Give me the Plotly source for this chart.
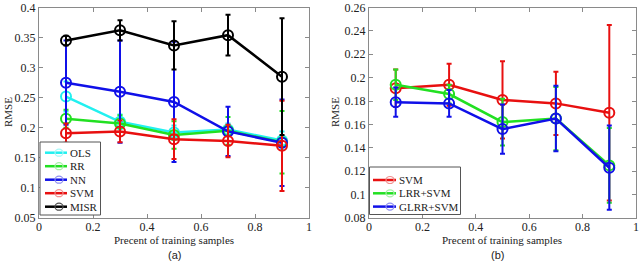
import plotly.graph_objects as go

x = [0.1, 0.3, 0.5, 0.7, 0.9]

# Panel (a)
ols = [0.252, 0.210, 0.192, 0.197, 0.179]
ols_err = [0.025, 0.012, 0.012, 0.010, 0.015]
rr = [0.215, 0.207, 0.188, 0.195, 0.176]
rr_err = [0.015, 0.014, 0.023, 0.023, 0.052]
nn = [0.275, 0.260, 0.243, 0.194, 0.175]
nn_err = [0.070, 0.085, 0.100, 0.041, 0.072]
svm = [0.191, 0.194, 0.181, 0.178, 0.170]
svm_err = [0.016, 0.018, 0.033, 0.027, 0.075]
misr = [0.345, 0.362, 0.337, 0.354, 0.285]
misr_err = [0.008, 0.017, 0.040, 0.034, 0.097]

# Panel (b)
lrr = [0.194, 0.186, 0.162, 0.165, 0.125]
lrr_err = [0.013, 0.008, 0.020, 0.027, 0.032]
glrr = [0.179, 0.178, 0.156, 0.165, 0.123]
glrr_err = [0.0125, 0.0115, 0.021, 0.028, 0.036]

names_a = ["OLS", "RR", "NN", "SVM", "MISR"]
names_b = ["SVM", "LRR+SVM", "GLRR+SVM"]

xticks = [0, 0.2, 0.4, 0.6, 0.8, 1]
xticktext = ["0", "0.2", "0.4", "0.6", "0.8", "1"]
yticks_a = [0.05, 0.1, 0.15, 0.2, 0.25, 0.3, 0.35, 0.4]
yticktext_a = ["0.05", "0.1", "0.15", "0.2", "0.25", "0.3", "0.35", "0.4"]
yticks_b = [0.08, 0.1, 0.12, 0.14, 0.16, 0.18, 0.2, 0.22, 0.24, 0.26]
yticktext_b = ["0.08", "0.1", "0.12", "0.14", "0.16", "0.18", "0.2", "0.22", "0.24", "0.26"]

CYAN = "#22f0f0"
GREEN = "#22e022"
BLUE = "#1010e8"
RED = "#e81010"
BLACK = "#000000"
PALE = {CYAN: "#a8f8f8", GREEN: "#a8f0a8", BLUE: "#9090f0", RED: "#f09090", BLACK: "#505050"}

colors_a = [CYAN, GREEN, BLUE, RED, BLACK]
colors_b = [RED, GREEN, BLUE]

fig = go.Figure()

def add(name, y, err, color, xa, ya):
    fig.add_trace(go.Scatter(
        x=x, y=y, name=name, mode="lines+markers", showlegend=False,
        line=dict(color=color, width=2.5),
        marker=dict(symbol="circle-open", size=10, color=color, line=dict(width=2, color=color)),
        error_y=dict(type="data", array=err, visible=True, color=color, thickness=2, width=2.5),
        xaxis=xa, yaxis=ya,
    ))

add("OLS", ols, ols_err, CYAN, "x", "y")
add("RR", rr, rr_err, GREEN, "x", "y")
add("NN", nn, nn_err, BLUE, "x", "y")
add("SVM", svm, svm_err, RED, "x", "y")
add("MISR", misr, misr_err, BLACK, "x", "y")

add("SVM", svm, svm_err, RED, "x2", "y2")
add("LRR+SVM", lrr, lrr_err, GREEN, "x2", "y2")
add("GLRR+SVM", glrr, glrr_err, BLUE, "x2", "y2")

W, H = 640, 263
def fx(p): return p / W
def fy(p): return 1 - p / H

SERIF = "Liberation Serif, Times New Roman, serif"
font = dict(family=SERIF, size=12, color="#222")
tfont = dict(family=SERIF, size=11, color="#222")
axis_common = dict(showgrid=False, zeroline=False, showline=True, linecolor="#8a8a8a", linewidth=1,
                   mirror="ticks", ticks="inside", ticklen=4, tickcolor="#8a8a8a",
                   tickfont=font, automargin=False)

fig.update_layout(
    width=W, height=H,
    margin=dict(l=0, r=0, t=0, b=0),
    paper_bgcolor="white", plot_bgcolor="white",
    xaxis=dict(domain=[fx(39), fx(309)], range=[0, 1], tickvals=xticks, ticktext=xticktext, anchor="y",
               ticklabelstandoff=-2, **axis_common),
    yaxis=dict(domain=[fy(218), fy(7.5)], range=[0.05, 0.4], tickvals=yticks_a, ticktext=yticktext_a, anchor="x", **axis_common),
    xaxis2=dict(domain=[fx(369), fx(636)], range=[0, 1], tickvals=xticks, ticktext=xticktext, anchor="y2",
                ticklabelstandoff=-2, **axis_common),
    yaxis2=dict(domain=[fy(218), fy(7.5)], range=[0.08, 0.26], tickvals=yticks_b, ticktext=yticktext_b, anchor="x2", **axis_common),
    showlegend=False,
)

# Legend boxes (MATLAB-style, compact)
def legend(names, colors, box, y0, dy, lx0, lx1, cx, tx):
    fig.add_shape(type="rect", xref="paper", yref="paper",
                  x0=fx(box[0]), x1=fx(box[1]), y0=fy(box[3]), y1=fy(box[2]),
                  line=dict(color="#555", width=1), fillcolor="white", layer="above")
    for i, (n, c) in enumerate(zip(names, colors)):
        yy = y0 + i * dy
        fig.add_shape(type="line", xref="paper", yref="paper",
                      x0=fx(lx0), x1=fx(lx1), y0=fy(yy), y1=fy(yy),
                      line=dict(color=c, width=2.5), layer="above")
        fig.add_shape(type="circle", xref="paper", yref="paper",
                      x0=fx(cx - 4), x1=fx(cx + 4), y0=fy(yy + 3.5), y1=fy(yy - 3.5),
                      line=dict(color=PALE[c], width=1.2), layer="above")
        fig.add_annotation(text=n, xref="paper", yref="paper", x=fx(tx), y=fy(yy),
                           xanchor="left", yanchor="middle", showarrow=False, font=tfont)

legend(names_a, colors_a, (40, 100.5, 142, 215), 152.7, 13.5, 45, 67, 59, 68)
legend(names_b, colors_b, (369.5, 460.5, 167, 214.5), 180, 13.3, 373, 396, 390, 397)

for xp in [174, 502]:
    fig.add_annotation(text="Precent of training samples", xref="paper", yref="paper", x=fx(xp), y=fy(240),
                       showarrow=False, xanchor="center", yanchor="middle", font=tfont)
for xp in [8, 335]:
    fig.add_annotation(text="RMSE", xref="paper", yref="paper", x=fx(xp), y=fy(112), showarrow=False,
                       textangle=-90, xanchor="center", yanchor="middle", font=tfont)
for t, xp in [("(a)", 174), ("(b)", 497)]:
    fig.add_annotation(text=t, xref="paper", yref="paper", x=fx(xp), y=fy(254.5), showarrow=False,
                       xanchor="center", yanchor="middle",
                       font=dict(family="Liberation Sans, Arial, sans-serif", size=11, color="#222"))

fig.write_html("out.html", config={"displayModeBar": False},
               post_script="document.body.style.margin='0';document.body.style.padding='0';")
